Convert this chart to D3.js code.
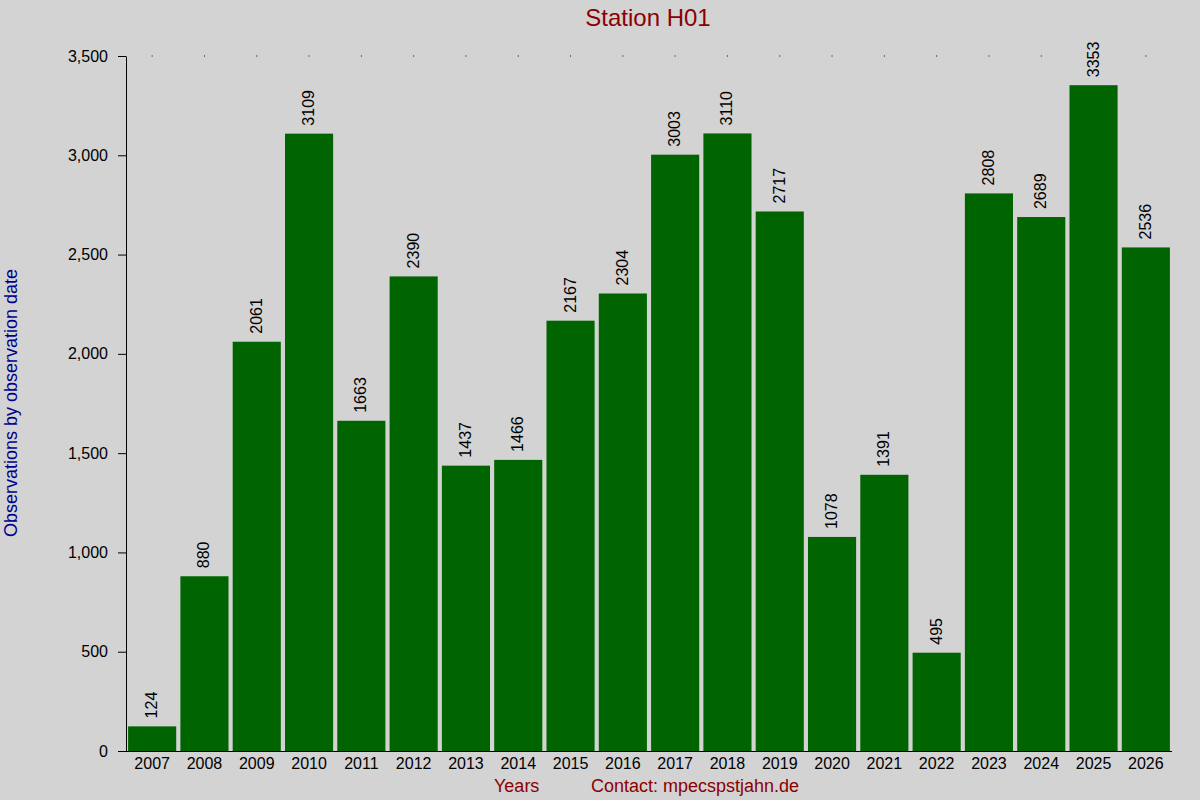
<!DOCTYPE html>
<html><head><meta charset="utf-8">
<script src="https://cdn.jsdelivr.net/npm/d3@7"></script>
<style>body{margin:0;background:#d3d3d3;font-family:"Liberation Sans",Arial,sans-serif;}</style>
</head><body><svg id="c" width="1200" height="800"></svg>
<script>
const years = ["2007","2008","2009","2010","2011","2012","2013","2014","2015","2016","2017","2018","2019","2020","2021","2022","2023","2024","2025","2026"];
const counts = [124,880,2061,3109,1663,2390,1437,1466,2167,2304,3003,3110,2717,1078,1391,495,2808,2689,3353,2536];
const yTicks = [0,500,1000,1500,2000,2500,3000,3500];

const svg = d3.select("#c");
svg.append("rect").attr("width",1200).attr("height",800).attr("fill","#d3d3d3");
const L=126,R=1172,T=56,B=751;
const x = d3.scaleBand().domain(years).range([L,R]).paddingInner(0.08).paddingOuter(0.04);
const y = d3.scaleLinear().domain([0,3500]).range([B,T]);

svg.selectAll("rect.bar").data(years).join("rect").attr("class","bar")
  .attr("x",d=>x(d)).attr("width",x.bandwidth())
  .attr("y",(d,i)=>y(counts[i])).attr("height",(d,i)=>B-y(counts[i]))
  .attr("fill","#006400");

svg.selectAll("text.val").data(years).join("text").attr("class","val")
  .attr("transform",(d,i)=>`translate(${x(d)+x.bandwidth()/2+5},${y(counts[i])-8}) rotate(-90)`)
  .attr("font-size",16).attr("fill","#000").text((d,i)=>counts[i]);

// top dots
svg.selectAll("rect.dot").data(years).join("rect").attr("class","dot")
  .attr("x",d=>x(d)+x.bandwidth()/2-0.5).attr("y",T-0.5).attr("width",1).attr("height",1).attr("fill","#000");

const ya = svg.append("g").attr("transform",`translate(${L},0)`)
  .call(d3.axisLeft(y).tickValues(yTicks).tickSize(8).tickSizeOuter(0).tickPadding(10));
ya.selectAll("text").attr("font-size",16).attr("font-family","Liberation Sans, Arial, sans-serif").attr("fill","#000");
ya.select(".domain").attr("stroke","#000");

const xa = svg.append("g").attr("transform",`translate(0,${B})`)
  .call(d3.axisBottom(x).tickSize(0).tickPadding(7));
xa.selectAll("text").attr("font-size",16).attr("font-family","Liberation Sans, Arial, sans-serif").attr("fill","#000");
xa.select(".domain").remove();
svg.append("line").attr("x1",118).attr("x2",R).attr("y1",B+0.5).attr("y2",B+0.5).attr("stroke","#000");

svg.append("text").attr("x",648).attr("y",26).attr("text-anchor","middle").attr("font-size",24).attr("fill","#8b0000").text("Station H01");
svg.append("text").attr("x",494).attr("y",792).attr("font-size",18).attr("fill","#8b0000").text("Years");
svg.append("text").attr("x",591).attr("y",792).attr("font-size",18).attr("fill","#8b0000").text("Contact: mpecspstjahn.de");
svg.append("text").attr("transform","translate(17,403) rotate(-90)").attr("text-anchor","middle").attr("font-size",18).attr("fill","#00008b").text("Observations by observation date");
</script></body></html>
